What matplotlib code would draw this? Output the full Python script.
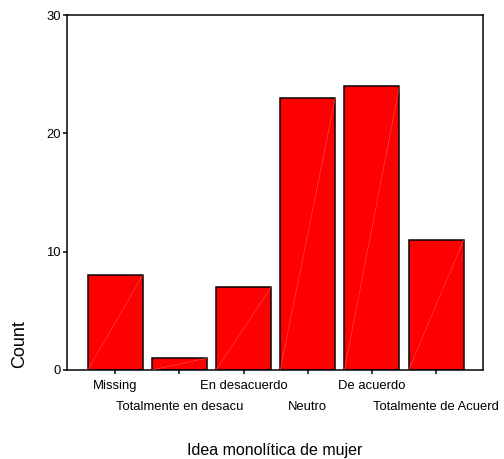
import matplotlib
matplotlib.use("Agg")
import matplotlib.pyplot as plt

categories = ["Missing", "Totalmente en desacu", "En desacuerdo", "Neutro",
              "De acuerdo", "Totalmente de Acuerd"]
counts = [8, 1, 7, 23, 24, 11]
yticks = [0, 10, 20, 30]

plt.rcParams['font.family'] = ['Liberation Sans', 'DejaVu Sans']

W, H = 504, 459
fig = plt.figure(figsize=(W / 72, H / 72), dpi=72)
ax = fig.add_axes([67 / W, (H - 370) / H, (483 - 67) / W, (370 - 15) / H])

x = list(range(len(categories)))
bw = 0.857
ax.bar(x, counts, width=bw, color='#ff0000', edgecolor='black', linewidth=1.5, zorder=2)
for xi, c in zip(x, counts):
    ax.plot([xi - bw / 2, xi + bw / 2], [0, c], color='#ff5a5a', linewidth=0.5, zorder=3)

ax.set_xlim(-0.75, 5.73)
ax.set_ylim(0, 30)
ax.set_yticks(yticks)
ax.set_yticklabels([str(v) for v in yticks], fontsize=13)
ax.set_xticks(x)
ax.set_xticklabels(categories, fontsize=13)
for s in ax.spines.values():
    s.set_linewidth(1.5)
    s.set_color('black')
ax.tick_params(axis='both', direction='out', length=4, width=1.5, colors='black')
ax.tick_params(axis='y', pad=2)
for i, t in enumerate(ax.xaxis.get_major_ticks()):
    t.set_pad(6 if i % 2 == 0 else 27)

fig.text(20 / W, 1 - 344 / H, "Count", rotation=90, ha='center', va='center', fontsize=18)
fig.text(275 / W, 1 - 450 / H, "Idea monolítica de mujer", ha='center', va='center', fontsize=16)

fig.savefig("out.png", dpi=72)
